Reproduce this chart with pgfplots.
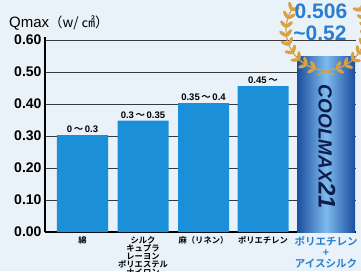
\documentclass[border=0pt]{standalone}
\usepackage{pgfplots}
\pgfplotsset{compat=1.18}
\usepackage{fontspec}
\setmainfont{Liberation Sans}
\newfontfamily\jp{Noto Sans CJK JP}[BoldFont={Noto Sans CJK JP Bold}]
\definecolor{barblue}{HTML}{1C8FD9}
\definecolor{darkbar}{HTML}{1B4E9E}
\definecolor{glow}{HTML}{7DBBEE}
\definecolor{lblblue}{HTML}{2A7ED0}
\definecolor{gold}{HTML}{D9A23E}
\definecolor{bg}{HTML}{EAF2F9}
\definecolor{gridc}{HTML}{3A3A3A}
\definecolor{navy}{HTML}{0D1D4A}
\newcommand\wave{{\jp\bfseries 〜}}
\newcommand\bl{\color{lblblue}\fontsize{10.5}{12.5}\selectfont}
\begin{document}
\begin{tikzpicture}
\fill[bg] (-45pt,-39pt) rectangle (316pt,232pt);
\begin{axis}[
  at={(0,0)}, anchor=south west,
  scale only axis, width=311pt, height=195.2pt,
  xmin=0, xmax=311, ymin=0, ymax=0.61,
  axis lines=left, axis line style={-, line width=1.1pt, black},
  ytick={0,0.1,0.2,0.3,0.4,0.5,0.6},
  /pgf/number format/assume math mode=true,
  yticklabel style={font=\bfseries\fontsize{14}{14}\selectfont,
    /pgf/number format/fixed, /pgf/number format/fixed zerofill,
    /pgf/number format/precision=2},
  ymajorgrids, grid style={gridc, line width=0.8pt},
  major tick length=0pt,
  xtick={37.5,98,158.5,218,281},
  xticklabels={綿, {シルク\\キュプラ\\レーヨン\\ポリエステル\\ナイロン}, 麻（リネン）, ポリエチレン,
    {\bl ポリエチレン\\[3pt]\bl +\\[1pt]\bl アイスシルク}},
  xticklabel style={font=\jp\bfseries\fontsize{8.3}{8}\selectfont, align=center, anchor=north, inner sep=1pt, yshift=-3.5pt},
  clip=false,
]
\addplot[ybar, bar width=51, bar shift=0pt, fill=barblue, draw=none,
  nodes near coords, point meta=explicit symbolic,
  every node near coord/.append style={font=\bfseries\fontsize{9.5}{9.5}\selectfont, text=black, inner sep=2pt}]
  coordinates {(37.5,0.303) [0\,\wave\,0.3] (98,0.348) [0.3\,\wave\,0.35] (158.5,0.403) [0.35\,\wave\,0.4] (218,0.456) [0.45\,\wave]};
\addplot[ybar, bar width=58, bar shift=0pt, draw=none, left color=darkbar, right color=darkbar, middle color=glow]
  coordinates {(281,0.55)};
\node[rotate=-90, font=\bfseries\itshape\fontsize{19}{19}\selectfont, text=navy] at (axis cs:282,0.266) {COOLMAX\fontsize{24}{24}\selectfont 21};
\coordinate (W) at (axis cs:281,0.631);
\coordinate (T1) at (axis cs:276,0.690);
\coordinate (T2) at (axis cs:275,0.622);
\end{axis}
\begin{scope}[shift={(W)}]
  \draw[gold, line width=1.2pt] (145:40pt) arc (145:265:40pt) -- ++(12pt,-5pt);
  \draw[gold, line width=1.2pt] (35:40pt) arc (35:-85:40pt) -- ++(-12pt,-5pt);
  \foreach \ang in {150,163,...,255} {
    \fill[gold, rotate=\ang, shift={(43pt,-3pt)}, rotate=-45] (0,0) ellipse [x radius=4.5pt, y radius=1.8pt];
    \fill[gold, rotate=\ang, shift={(37pt,-3pt)}, rotate=-135] (0,0) ellipse [x radius=4.5pt, y radius=1.8pt];
  }
  \foreach \ang in {285,298,...,390} {
    \fill[gold, rotate=\ang, shift={(43pt,3pt)}, rotate=45] (0,0) ellipse [x radius=4.5pt, y radius=1.8pt];
    \fill[gold, rotate=\ang, shift={(37pt,3pt)}, rotate=135] (0,0) ellipse [x radius=4.5pt, y radius=1.8pt];
  }
\end{scope}
\node[font=\bfseries\fontsize{21}{21}\selectfont, text=lblblue] at (T1) {0.506};
\node[font=\bfseries\fontsize{21}{21}\selectfont, text=lblblue] at (T2) {\textasciitilde0.52};
\node[anchor=west, inner sep=0pt] at (-36pt,209pt) {\fontsize{15}{15}\selectfont Qmax{\jp\fontsize{13.5}{13.5}\selectfont （w/ ㎠）}};
\pgfresetboundingbox
\path[use as bounding box] (-45pt,-39pt) rectangle (316pt,232pt);
\end{tikzpicture}
\end{document}
